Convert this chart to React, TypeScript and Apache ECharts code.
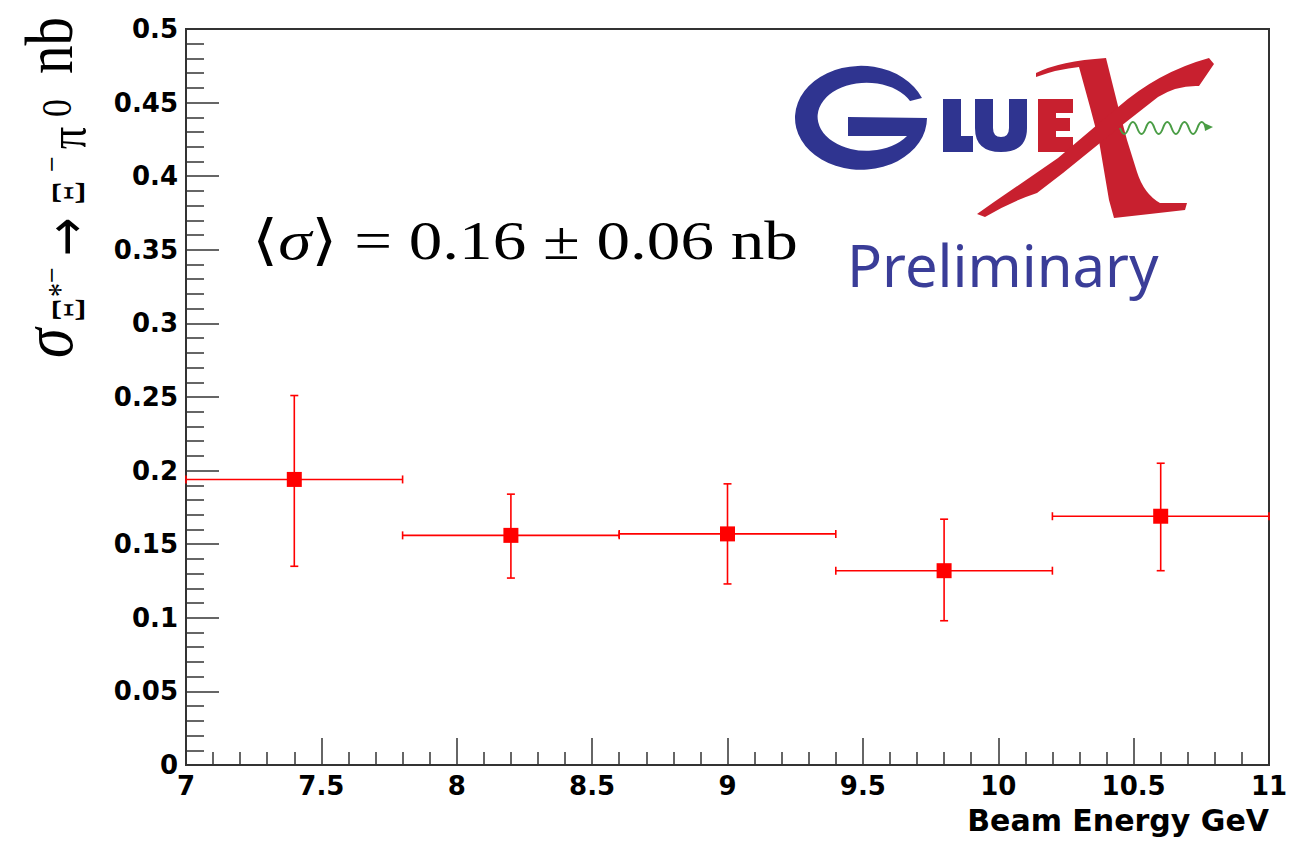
import React, { useEffect, useRef } from "react";
import * as echarts from "echarts";

// ---- data ----
const energies = [7.4, 8.2, 9.0, 9.8, 10.6];
const binLow = [7.0, 7.8, 8.6, 9.4, 10.2];
const binHigh = [7.8, 8.6, 9.4, 10.2, 11.0];
const sigma = [0.194, 0.156, 0.157, 0.132, 0.169];
const sigmaLow = [0.135, 0.127, 0.123, 0.098, 0.132];
const sigmaHigh = [0.251, 0.184, 0.191, 0.167, 0.205];
const xRange = [7, 11];
const yRange = [0, 0.5];
const xTitle = "Beam Energy GeV";
const annotation = "⟨{it|σ}⟩ = 0.16 ± 0.06 nb";

// ---- logo shapes (decoration) ----
const G_PATH =
  "M922,98 A66,52 0 1 0 927,118 L848,117 L848,136 L907,136 A49,34 0 1 1 910,101 Z";
const L_PATH = "M943,99 L961,99 L961,136 L973,136 L973,152 L943,152 Z";
const U_PATH =
  "M975,99 L993,99 L993,128 Q993,137 1001,137 Q1009,137 1009,128 L1009,99 L1027,99 L1027,128 Q1027,152 1001,152 Q975,152 975,128 Z";
const E_PATH =
  "M1038,99 L1073,99 L1073,113 L1056,113 L1056,118 L1070,118 L1070,131 L1056,131 L1056,137 L1073,137 L1073,152 L1038,152 Z";
const X_THICK =
  "M1036,73 Q1060,61 1106,58 L1118,106 L1127,140 L1137,172 Q1144,194 1160,203 L1187,203 L1185,210 Q1150,214 1114,218 L1109,200 L1099,141 L1090,107 L1079,67 Q1058,69 1036,77 Z";
const X_THIN =
  "M977,214 L994,202 L1058,158 L1117,108 Q1158,72 1209,58 L1214,64 L1199,86 Q1177,85 1158,97 L1121,126 L1063,173 L1037,193 Q1010,202 985,217 Z";

function wavePath(): string {
  const x0 = 1120, y0 = 128, half = 8.6, n = 10, amp = 12;
  let d = `M${x0},${y0}`;
  for (let i = 0; i < n; i++) {
    const xs = x0 + i * half;
    const dir = i % 2 === 0 ? 1 : -1;
    d += ` Q${(xs + half / 2).toFixed(1)},${y0 + dir * amp} ${(xs + half).toFixed(1)},${y0}`;
  }
  return d;
}

let registered = false;
function registerShapes() {
  if (registered) return;
  registered = true;
  const reg = (name: string, d: string) =>
    echarts.graphic.registerShape(name, echarts.graphic.extendPath(d, {}) as any);
  reg("gxG", G_PATH);
  reg("gxL", L_PATH);
  reg("gxU", U_PATH);
  reg("gxE", E_PATH);
  reg("gxXthick", X_THICK);
  reg("gxXthin", X_THIN);
  reg("gxWave", wavePath());
}

const SERIF = "'Liberation Serif', 'DejaVu Serif', serif";
const SANS = "'DejaVu Sans', sans-serif";
const STRETCH = 1.2;

// rotated glyph: startY = page y where the glyph starts (text runs upward), baseX = page x of its baseline
function rg(text: string, startY: number, baseX: number, size: number, italic = false, family = SERIF, centerX?: number) {
  return {
    type: "text",
    x: centerX != null ? centerX : baseX - 0.34 * size * STRETCH,
    y: startY,
    rotation: Math.PI / 2,
    scaleY: STRETCH,
    style: {
      text,
      fontFamily: family,
      fontSize: size,
      fontStyle: italic ? "italic" : "normal",
      fill: "#000",
      verticalAlign: "middle",
      align: "left",
    },
  };
}

export default function App() {
  const ref = useRef<HTMLDivElement>(null);
  useEffect(() => {
    if (!ref.current) return;
    registerShapes();
    const chart = echarts.init(ref.current, undefined, { renderer: "svg" });
    const data = energies.map((e, i) => [e, sigma[i], binLow[i], binHigh[i], sigmaLow[i], sigmaHigh[i]]);
    const axisColor = "#333";
    const labelStyle = {
      fontFamily: SANS,
      fontWeight: "bold" as const,
      fontSize: 26,
      color: "#000",
    };
    const option: any = {
      animation: false,
      backgroundColor: "#fff",
      grid: {
        left: 186,
        right: 38,
        top: 29,
        bottom: 76,
        show: true,
        borderColor: axisColor,
        borderWidth: 2,
        backgroundColor: "transparent",
      },
      xAxis: {
        type: "value",
        min: xRange[0],
        max: xRange[1],
        interval: 0.5,
        name: xTitle,
        nameLocation: "end",
        nameGap: 0,
        nameTextStyle: {
          fontFamily: SANS,
          fontWeight: "bold",
          fontSize: 30,
          color: "#000",
          align: "right",
          verticalAlign: "top",
          padding: [40, 0, 0, 0],
        },
        axisLine: { show: true, lineStyle: { color: axisColor, width: 2 } },
        axisTick: { show: true, inside: true, length: 27, lineStyle: { color: axisColor, width: 1.5 } },
        minorTick: { show: true, splitNumber: 5, length: 13, lineStyle: { color: axisColor, width: 1.5 } },
        splitLine: { show: false },
        minorSplitLine: { show: false },
        axisLabel: { ...labelStyle, margin: 8 },
      },
      yAxis: {
        type: "value",
        min: yRange[0],
        max: yRange[1],
        interval: 0.05,
        axisLine: { show: true, lineStyle: { color: axisColor, width: 2 } },
        axisTick: { show: true, inside: true, length: 33, lineStyle: { color: axisColor, width: 1.5 } },
        minorTick: { show: true, splitNumber: 5, length: 18, lineStyle: { color: axisColor, width: 1.5 } },
        splitLine: { show: false },
        minorSplitLine: { show: false },
        axisLabel: { ...labelStyle, margin: 8 },
      },
      series: [
        {
          type: "custom",
          name: "errors",
          data,
          encode: { x: 0, y: 1 },
          z: 2,
          renderItem: (params: any, api: any) => {
            const x = api.value(0), y = api.value(1);
            const l = api.coord([api.value(2), y]);
            const r = api.coord([api.value(3), y]);
            const b = api.coord([x, api.value(4)]);
            const tp = api.coord([x, api.value(5)]);
            const style = { stroke: "#ff0000", lineWidth: 1.6 };
            const cap = 4;
            const ln = (x1: number, y1: number, x2: number, y2: number) => ({
              type: "line",
              shape: { x1, y1, x2, y2 },
              style,
            });
            return {
              type: "group",
              children: [
                ln(l[0], l[1], r[0], r[1]),
                ln(l[0], l[1] - cap, l[0], l[1] + cap),
                ln(r[0], r[1] - cap, r[0], r[1] + cap),
                ln(b[0], b[1], tp[0], tp[1]),
                ln(b[0] - cap, b[1], b[0] + cap, b[1]),
                ln(tp[0] - cap, tp[1], tp[0] + cap, tp[1]),
              ],
            };
          },
        },
        {
          type: "scatter",
          name: "sigma",
          data: energies.map((e, i) => [e, sigma[i]]),
          symbol: "rect",
          symbolSize: 15,
          itemStyle: { color: "#ff0000", opacity: 1 },
          z: 3,
        },
      ],
      graphic: [
        // y axis title, rotated glyph by glyph
        rg("σ", 358, 72, 60, true),
        rg("Ξ", 322, 84, 38),
        rg("*", 297, 71, 28),
        rg("−", 283, 63, 28),
        rg("→", 256, 0, 46, false, SANS, 66),
        rg("Ξ", 205, 84, 38),
        rg("−", 172, 63, 28),
        rg("π", 149, 86, 44),
        rg("0", 117, 72, 36),
        rg("nb", 74, 72, 57),
        // annotation
        {
          type: "text",
          x: 252,
          y: 259 - 0.34 * 55,
          scaleX: 1.22,
          style: {
            text: annotation,
            fontFamily: SERIF,
            fontSize: 55,
            fill: "#000",
            verticalAlign: "middle",
            align: "left",
            rich: { it: { fontStyle: "italic", fontFamily: SERIF, fontSize: 55 } },
          },
        },
        // GlueX logo
        { type: "gxG", style: { fill: "#2f3490" } },
        { type: "gxL", style: { fill: "#2f3490" } },
        { type: "gxU", style: { fill: "#2f3490" } },
        { type: "gxE", style: { fill: "#c8202f" } },
        { type: "gxXthick", style: { fill: "#c8202f" } },
        { type: "gxXthin", style: { fill: "#c8202f" } },
        { type: "gxWave", style: { fill: "none", stroke: "#4a9d45", lineWidth: 2 } },
        { type: "polygon", shape: { points: [[1204, 123], [1213, 127], [1205, 131]] }, style: { fill: "#4a9d45" } },
        {
          type: "text",
          x: 847,
          y: 285 - 0.35 * 58,
          style: {
            text: "Preliminary",
            fontFamily: "'Noto Sans', sans-serif",
            fontSize: 58,
            fill: "#3a3d98",
            verticalAlign: "middle",
            align: "left",
          },
        },
      ],
    };
    chart.setOption(option);
    return () => chart.dispose();
  }, []);
  return (
    <div
      ref={ref}
      style={{ position: "fixed", left: 0, top: 0, width: 1307, height: 841, background: "#fff" }}
    />
  );
}
